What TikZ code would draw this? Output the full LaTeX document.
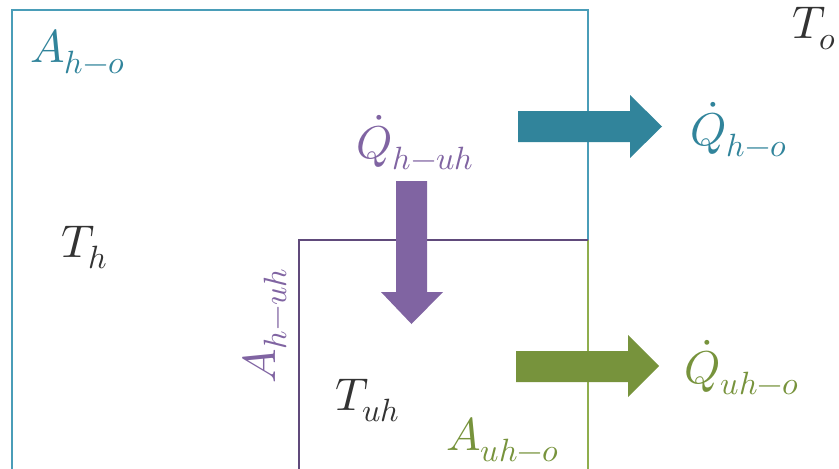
\documentclass[tikz,border=0pt]{standalone}
\usepackage{unicode-math}
\definecolor{blueline}{HTML}{4A9DB8}
\definecolor{bluefill}{HTML}{31849B}
\definecolor{purpline}{HTML}{604A7B}
\definecolor{purpfill}{HTML}{8064A2}
\definecolor{greenline}{HTML}{8FAE4E}
\definecolor{greenfill}{HTML}{77933C}
\definecolor{darktext}{HTML}{333333}
\tikzset{
  wall/.style={line width=2.2pt},
  lbl/.style={inner sep=0pt, anchor=base west, font=\fontsize{46}{50}\selectfont},
}
\begin{document}
\begin{tikzpicture}[x=1pt,y=-1pt]
\useasboundingbox (0,0) rectangle (839,469);
% walls
\draw[wall, blueline] (12,469) -- (12,10) -- (588,10) -- (588,240);
\draw[wall, greenline] (588,240) -- (588,469);
\draw[wall, purpline] (588,240) -- (299,240) -- (299,469);
% block arrows
\fill[bluefill] (518,111) -- (630,111) -- (630,95) -- (662,126.5) -- (630,158) -- (630,142) -- (518,142) -- cycle;
\fill[purpfill] (396,181) -- (427,181) -- (427,292) -- (443,292) -- (411.5,324) -- (381,292) -- (396,292) -- cycle;
\fill[greenfill] (516,351) -- (628,351) -- (628,335) -- (659,366) -- (628,397) -- (628,382) -- (516,382) -- cycle;
% labels
\node[lbl, text=bluefill] (Aho) at (30,62) {$A_{h-o}$};
\node[lbl, text=darktext] (To) at (792,38) {$T_o$};
\node[lbl, text=purpfill, anchor=base] (Qhuh) at (415,158) {$\dot{Q}_{h-uh}$};
\node[lbl, text=bluefill] (Qho) at (690,145) {$\dot{Q}_{h-o}$};
\node[lbl, text=darktext] (Th) at (61,257) {$T_h$};
\node[lbl, text=purpfill, rotate=90] (Ahuh) at (275,384) {$A_{h-uh}$};
\node[lbl, text=darktext] (Tuh) at (335,410) {$T_{uh}$};
\node[lbl, text=greenfill] (Auho) at (446,450) {$A_{uh-o}$};
\node[lbl, text=greenfill] (Quho) at (684,383) {$\dot{Q}_{uh-o}$};
\end{tikzpicture}
\end{document}
